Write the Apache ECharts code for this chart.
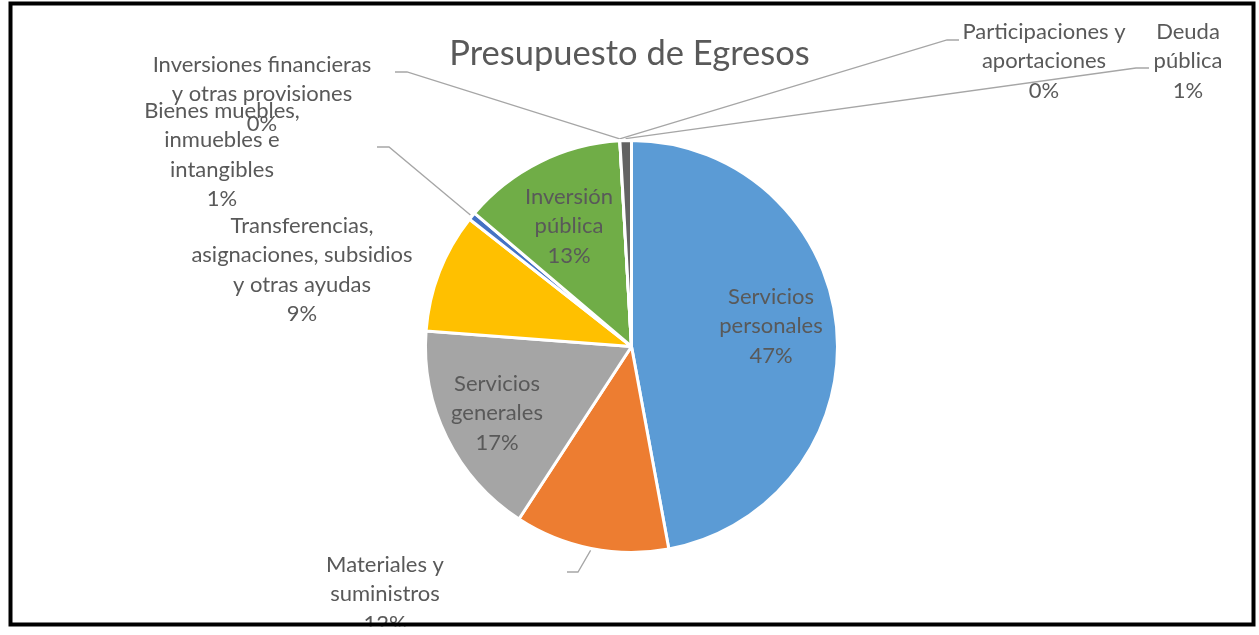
<!DOCTYPE html>
<html><head><meta charset="utf-8">
<script src="https://cdn.jsdelivr.net/npm/echarts@6/dist/echarts.min.js"></script>
<style>html,body{margin:0;padding:0;background:#fff}#c{width:1259px;height:635px}</style>
</head><body><div id="c"></div>
<script>
// ---- data ----
var titleText = 'Presupuesto de Egresos';
var categories = [
  'Servicios\npersonales',
  'Materiales y\nsuministros',
  'Servicios\ngenerales',
  'Transferencias,\nasignaciones, subsidios\ny otras ayudas',
  'Bienes muebles,\ninmuebles e\nintangibles',
  'Inversión\npública',
  'Inversiones financieras\ny otras provisiones',
  'Participaciones y\naportaciones',
  'Deuda\npública'
];
var values = [47.1, 12.1, 17.0, 9.4, 0.6, 12.9, 0, 0, 0.9];
var colors = ['#5B9BD5', '#ED7D31', '#A5A5A5', '#FFC000', '#4472C4', '#70AD47', '#255E91', '#9E480E', '#636363'];

// ---- layout ----
var CX = 631.5, CY = 346.5, R = 206;
var labelAt = [[771, 326], [385, 594], [497, 413], [302, 270], [222, 155], [569, 226], [262, 94], [1044, 61], [1188, 61]];
var guide = [null, [578, 572, 567, 572], null, null, [389, 147, 377, 147], null, [407, 72, 395, 72], [947, 40, 959, 40], [1136, 68, 1149, 68]];
var insideIdx = [0, 2, 5];
var FONT = 'Lato';

var total = values.reduce(function (a, b) { return a + b; }, 0);
function midAngle(i) {
  var s = 0;
  for (var k = 0; k < i; k++) s += values[k];
  return (s + values[i] / 2) / total * 2 * Math.PI;
}

var chart = echarts.init(document.getElementById('c'), null, { renderer: 'canvas' });
chart.setOption({
  animation: false,
  backgroundColor: '#fff',
  title: {
    text: titleText, left: 'center', top: 31,
    textStyle: { fontSize: 34.5, fontWeight: 'normal', color: '#595959', fontFamily: FONT }
  },
  series: [{
    type: 'pie',
    center: [CX, CY],
    radius: R,
    startAngle: 90,
    clockwise: true,
    avoidLabelOverlap: false,
    itemStyle: { borderColor: '#fff', borderWidth: 3 },
    label: {
      color: '#595959', fontSize: 22, fontFamily: FONT, lineHeight: 29.5, align: 'center',
      formatter: function (p) { return p.name + '\n' + Math.round(p.percent) + '%'; }
    },
    labelLine: { lineStyle: { color: '#A6A6A6', width: 1.3 } },
    labelLayout: function (p) {
      var i = p.dataIndex;
      var res = { x: labelAt[i][0], y: labelAt[i][1], align: 'center', verticalAlign: 'middle' };
      var g = guide[i];
      if (g) {
        var a = midAngle(i);
        var ex = CX + (R + 2) * Math.sin(a), ey = CY - (R + 2) * Math.cos(a);
        res.labelLinePoints = [[ex, ey], [g[0], g[1]], [g[2], g[3]]];
      }
      return res;
    },
    data: values.map(function (v, i) {
      return {
        name: categories[i], value: v,
        itemStyle: { color: colors[i] },
        label: { position: insideIdx.indexOf(i) >= 0 ? 'inside' : 'outside' },
        labelLine: { show: !!guide[i] }
      };
    })
  }],
  graphic: [
    { type: 'rect', z: 99, shape: { x: 0, y: 626.5, width: 1259, height: 9 }, style: { fill: '#fff' } },
    { type: 'rect', z: 100, shape: { x: 10.5, y: 3.5, width: 1243, height: 621 }, style: { fill: null, stroke: '#000', lineWidth: 4 } }
  ]
});
</script>
</body></html>
